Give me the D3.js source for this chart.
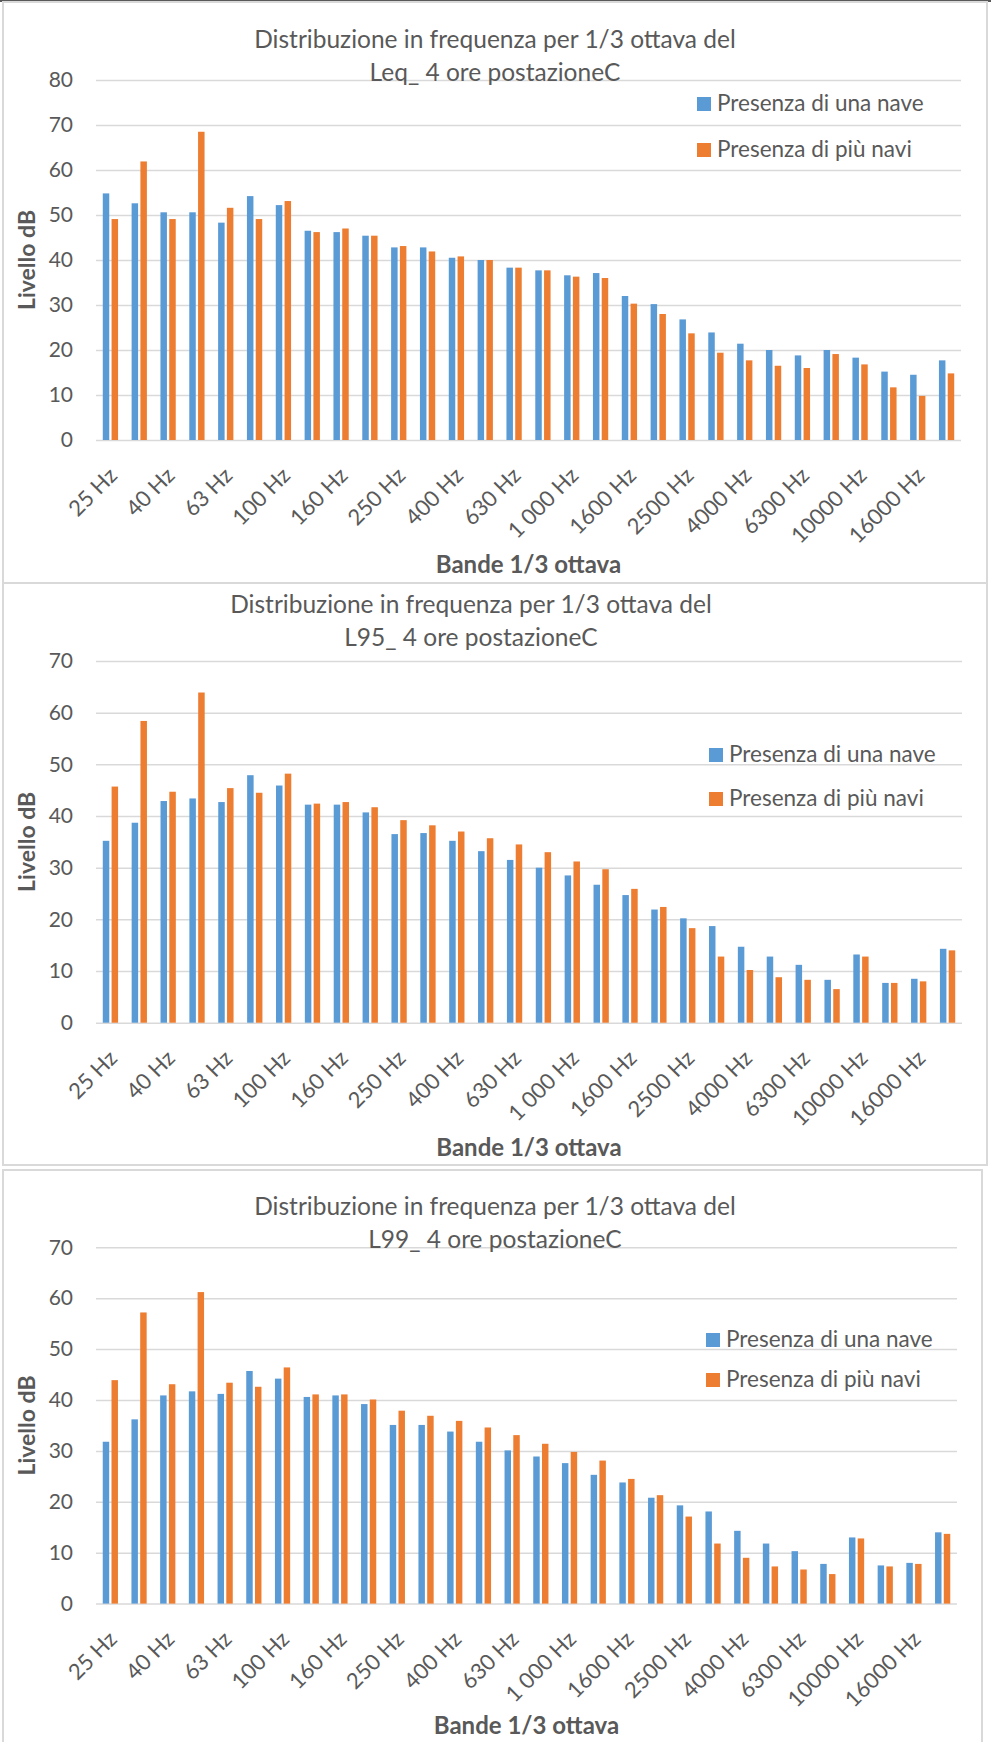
<!DOCTYPE html>
<html>
<head>
<meta charset="utf-8">
<script src="https://cdn.jsdelivr.net/npm/d3@7"></script>
<style>
  html, body { margin: 0; padding: 0; background: #fff; }
  svg { display: block; font-family: Lato, "Open Sans", sans-serif; }
</style>
</head>
<body>
<svg></svg>
<script>
const width = 991;
const height = 1742;

// bande 1/3 ottava
const categories = ['25 Hz', '31,5 Hz', '40 Hz', '50 Hz', '63 Hz', '80 Hz', '100 Hz', '125 Hz', '160 Hz', '200 Hz',
    '250 Hz', '315 Hz', '400 Hz', '500 Hz', '630 Hz', '800 Hz', '1 000 Hz', '1250 Hz', '1600 Hz', '2000 Hz',
    '2500 Hz', '3150 Hz', '4000 Hz', '5000 Hz', '6300 Hz', '8000 Hz', '10000 Hz', '12500 Hz', '16000 Hz', '20000 Hz'];

const seriesNames = ['Presenza di una nave', 'Presenza di più navi'];

const leqUna = [54.8, 52.6, 50.6, 50.6, 48.3, 54.2, 52.2, 46.5, 46.2, 45.4, 42.8, 42.8, 40.5, 40.0, 38.3,
    37.7, 36.6, 37.1, 32.0, 30.2, 26.8, 23.9, 21.4, 20.0, 18.8, 20.0, 18.3, 15.2, 14.5, 17.7];
const leqPiu = [49.1, 61.9, 49.1, 68.5, 51.6, 49.1, 53.1, 46.2, 47.0, 45.4, 43.1, 41.9, 40.8, 40.0, 38.3,
    37.7, 36.3, 36.0, 30.3, 28.0, 23.7, 19.4, 17.7, 16.5, 16.0, 19.1, 16.8, 11.7, 9.8, 14.8];

const l95Una = [35.2, 38.7, 42.9, 43.4, 42.7, 47.9, 45.9, 42.2, 42.2, 40.7, 36.5, 36.7, 35.2, 33.2, 31.5,
    30.0, 28.5, 26.7, 24.7, 21.9, 20.2, 18.7, 14.7, 12.8, 11.2, 8.3, 13.2, 7.7, 8.5, 14.3];
const l95Piu = [45.7, 58.4, 44.7, 63.9, 45.4, 44.5, 48.2, 42.4, 42.7, 41.7, 39.2, 38.2, 37.0, 35.7, 34.5,
    33.0, 31.2, 29.7, 25.9, 22.4, 18.3, 12.8, 10.2, 8.8, 8.3, 6.5, 12.8, 7.7, 8.0, 14.0];

const l99Una = [31.8, 36.2, 40.9, 41.7, 41.2, 45.7, 44.2, 40.6, 40.9, 39.2, 35.1, 35.1, 33.8, 31.8, 30.1,
    28.9, 27.6, 25.3, 23.8, 20.8, 19.3, 18.1, 14.3, 11.8, 10.3, 7.8, 13.0, 7.5, 8.0, 14.0];
const l99Piu = [43.9, 57.2, 43.1, 61.2, 43.4, 42.6, 46.4, 41.1, 41.1, 40.1, 37.9, 36.9, 35.9, 34.6, 33.1,
    31.4, 29.8, 28.1, 24.5, 21.3, 17.1, 11.8, 9.0, 7.3, 6.7, 5.8, 12.8, 7.3, 7.8, 13.7];

const yTicks80 = [0, 10, 20, 30, 40, 50, 60, 70, 80];
const yTicks70 = [0, 10, 20, 30, 40, 50, 60, 70];

const titleLine1 = 'Distribuzione in frequenza per 1/3 ottava del';
const xTitle = 'Bande 1/3 ottava';
const yTitle = 'Livello dB';

const colors = ['#5B9BD5', '#ED7D31'];
const textColor = '#595959';
const gridColor = '#D9D9D9';

const panels = [
    { box: [3, 2, 984, 581], plot: { left: 96, right: 961, top: 80, bottom: 440 },
      yTicks: yTicks80, una: leqUna, piu: leqPiu, title2: 'Leq_ 4 ore postazioneC',
      titleX: 495, titleY: 48, legend: { x: 697, y: 97, gapY: 46 }, xTitleY: 573 },
    { box: [3, 583, 984, 582], plot: { left: 96, right: 962, top: 661, bottom: 1022.7 },
      yTicks: yTicks70, una: l95Una, piu: l95Piu, title2: 'L95_ 4 ore postazioneC',
      titleX: 471, titleY: 613, legend: { x: 709, y: 748, gapY: 44 }, xTitleY: 1156 },
    { box: [3, 1170, 979, 600], plot: { left: 96, right: 957, top: 1247.3, bottom: 1603.6 },
      yTicks: yTicks70, una: l99Una, piu: l99Piu, title2: 'L99_ 4 ore postazioneC',
      titleX: 495, titleY: 1215, legend: { x: 706, y: 1333, gapY: 40 }, xTitleY: 1734 }
];

const svg = d3.select('svg')
    .attr('width', width)
    .attr('height', height);

// riga nera in alto
svg.append('line')
    .attr('x1', 0).attr('x2', width)
    .attr('y1', 1).attr('y2', 1)
    .attr('stroke', '#222').attr('stroke-width', 1.5);

const drawPanel = p => {
    const g = svg.append('g');
    const { left, right, top, bottom } = p.plot;

    g.append('rect')
        .attr('x', p.box[0]).attr('y', p.box[1])
        .attr('width', p.box[2]).attr('height', p.box[3])
        .attr('fill', 'none')
        .attr('stroke', gridColor)
        .attr('stroke-width', 2);

    const x = d3.scaleBand().domain(categories).range([left, right]).padding(0);
    const y = d3.scaleLinear().domain([0, d3.max(p.yTicks)]).range([bottom, top]);

    // griglia + etichette asse y
    const yAxis = g.append('g')
        .attr('transform', `translate(${left},0)`)
        .call(d3.axisLeft(y).tickValues(p.yTicks).tickSize(-(right - left)).tickPadding(23));
    yAxis.select('.domain').remove();
    yAxis.selectAll('.tick line').attr('stroke', gridColor).attr('stroke-width', 1.5);
    yAxis.selectAll('.tick text')
        .attr('fill', textColor)
        .style('font-size', '21px')
        .style('font-family', 'Lato, sans-serif');

    // barre
    const step = x.bandwidth();
    const bw = step * 0.225;
    const gap = step * 0.08;
    const rows = categories.map((c, i) => ({ c, una: p.una[i], piu: p.piu[i] }));

    g.append('g').selectAll('rect')
        .data(rows)
        .enter().append('rect')
        .attr('x', d => x(d.c) + step / 2 - gap / 2 - bw)
        .attr('y', d => y(d.una))
        .attr('width', bw)
        .attr('height', d => y(0) - y(d.una))
        .attr('fill', colors[0]);

    g.append('g').selectAll('rect')
        .data(rows)
        .enter().append('rect')
        .attr('x', d => x(d.c) + step / 2 + gap / 2)
        .attr('y', d => y(d.piu))
        .attr('width', bw)
        .attr('height', d => y(0) - y(d.piu))
        .attr('fill', colors[1]);

    // asse x, etichette una si e una no
    const xAxis = g.append('g')
        .attr('transform', `translate(0,${bottom})`)
        .call(d3.axisBottom(x).tickValues(categories.filter((c, i) => i % 2 === 0)).tickSize(0));
    xAxis.select('.domain').remove();
    xAxis.selectAll('.tick text')
        .attr('fill', textColor)
        .style('font-size', '22px')
        .style('font-family', 'Lato, sans-serif')
        .attr('text-anchor', 'end')
        .attr('dy', 0)
        .attr('y', 0)
        .attr('transform', 'translate(8,37) rotate(-45)');

    // titolo
    g.append('text')
        .attr('x', p.titleX).attr('y', p.titleY)
        .attr('text-anchor', 'middle')
        .attr('fill', textColor)
        .style('font-size', '24.5px')
        .text(titleLine1);
    g.append('text')
        .attr('x', p.titleX).attr('y', p.titleY + 33)
        .attr('text-anchor', 'middle')
        .attr('fill', textColor)
        .style('font-size', '24.5px')
        .text(p.title2);

    // legenda
    const legend = g.selectAll('g.legend')
        .data(seriesNames)
        .enter().append('g')
        .attr('class', 'legend')
        .attr('transform', (d, i) => `translate(${p.legend.x},${p.legend.y + i * p.legend.gapY})`);
    legend.append('rect')
        .attr('width', 14).attr('height', 14)
        .attr('fill', (d, i) => colors[i]);
    legend.append('text')
        .attr('x', 20).attr('y', 14)
        .attr('fill', textColor)
        .style('font-size', '22.5px')
        .text(d => d);

    // titoli assi
    g.append('text')
        .attr('x', (left + right) / 2).attr('y', p.xTitleY)
        .attr('text-anchor', 'middle')
        .attr('fill', textColor)
        .style('font-size', '24px')
        .style('font-weight', 'bold')
        .text(xTitle);
    g.append('text')
        .attr('transform', `translate(35,${(top + bottom) / 2}) rotate(-90)`)
        .attr('text-anchor', 'middle')
        .attr('fill', textColor)
        .style('font-size', '23px')
        .style('font-weight', 'bold')
        .text(yTitle);
};

panels.forEach(drawPanel);
</script>
</body>
</html>
